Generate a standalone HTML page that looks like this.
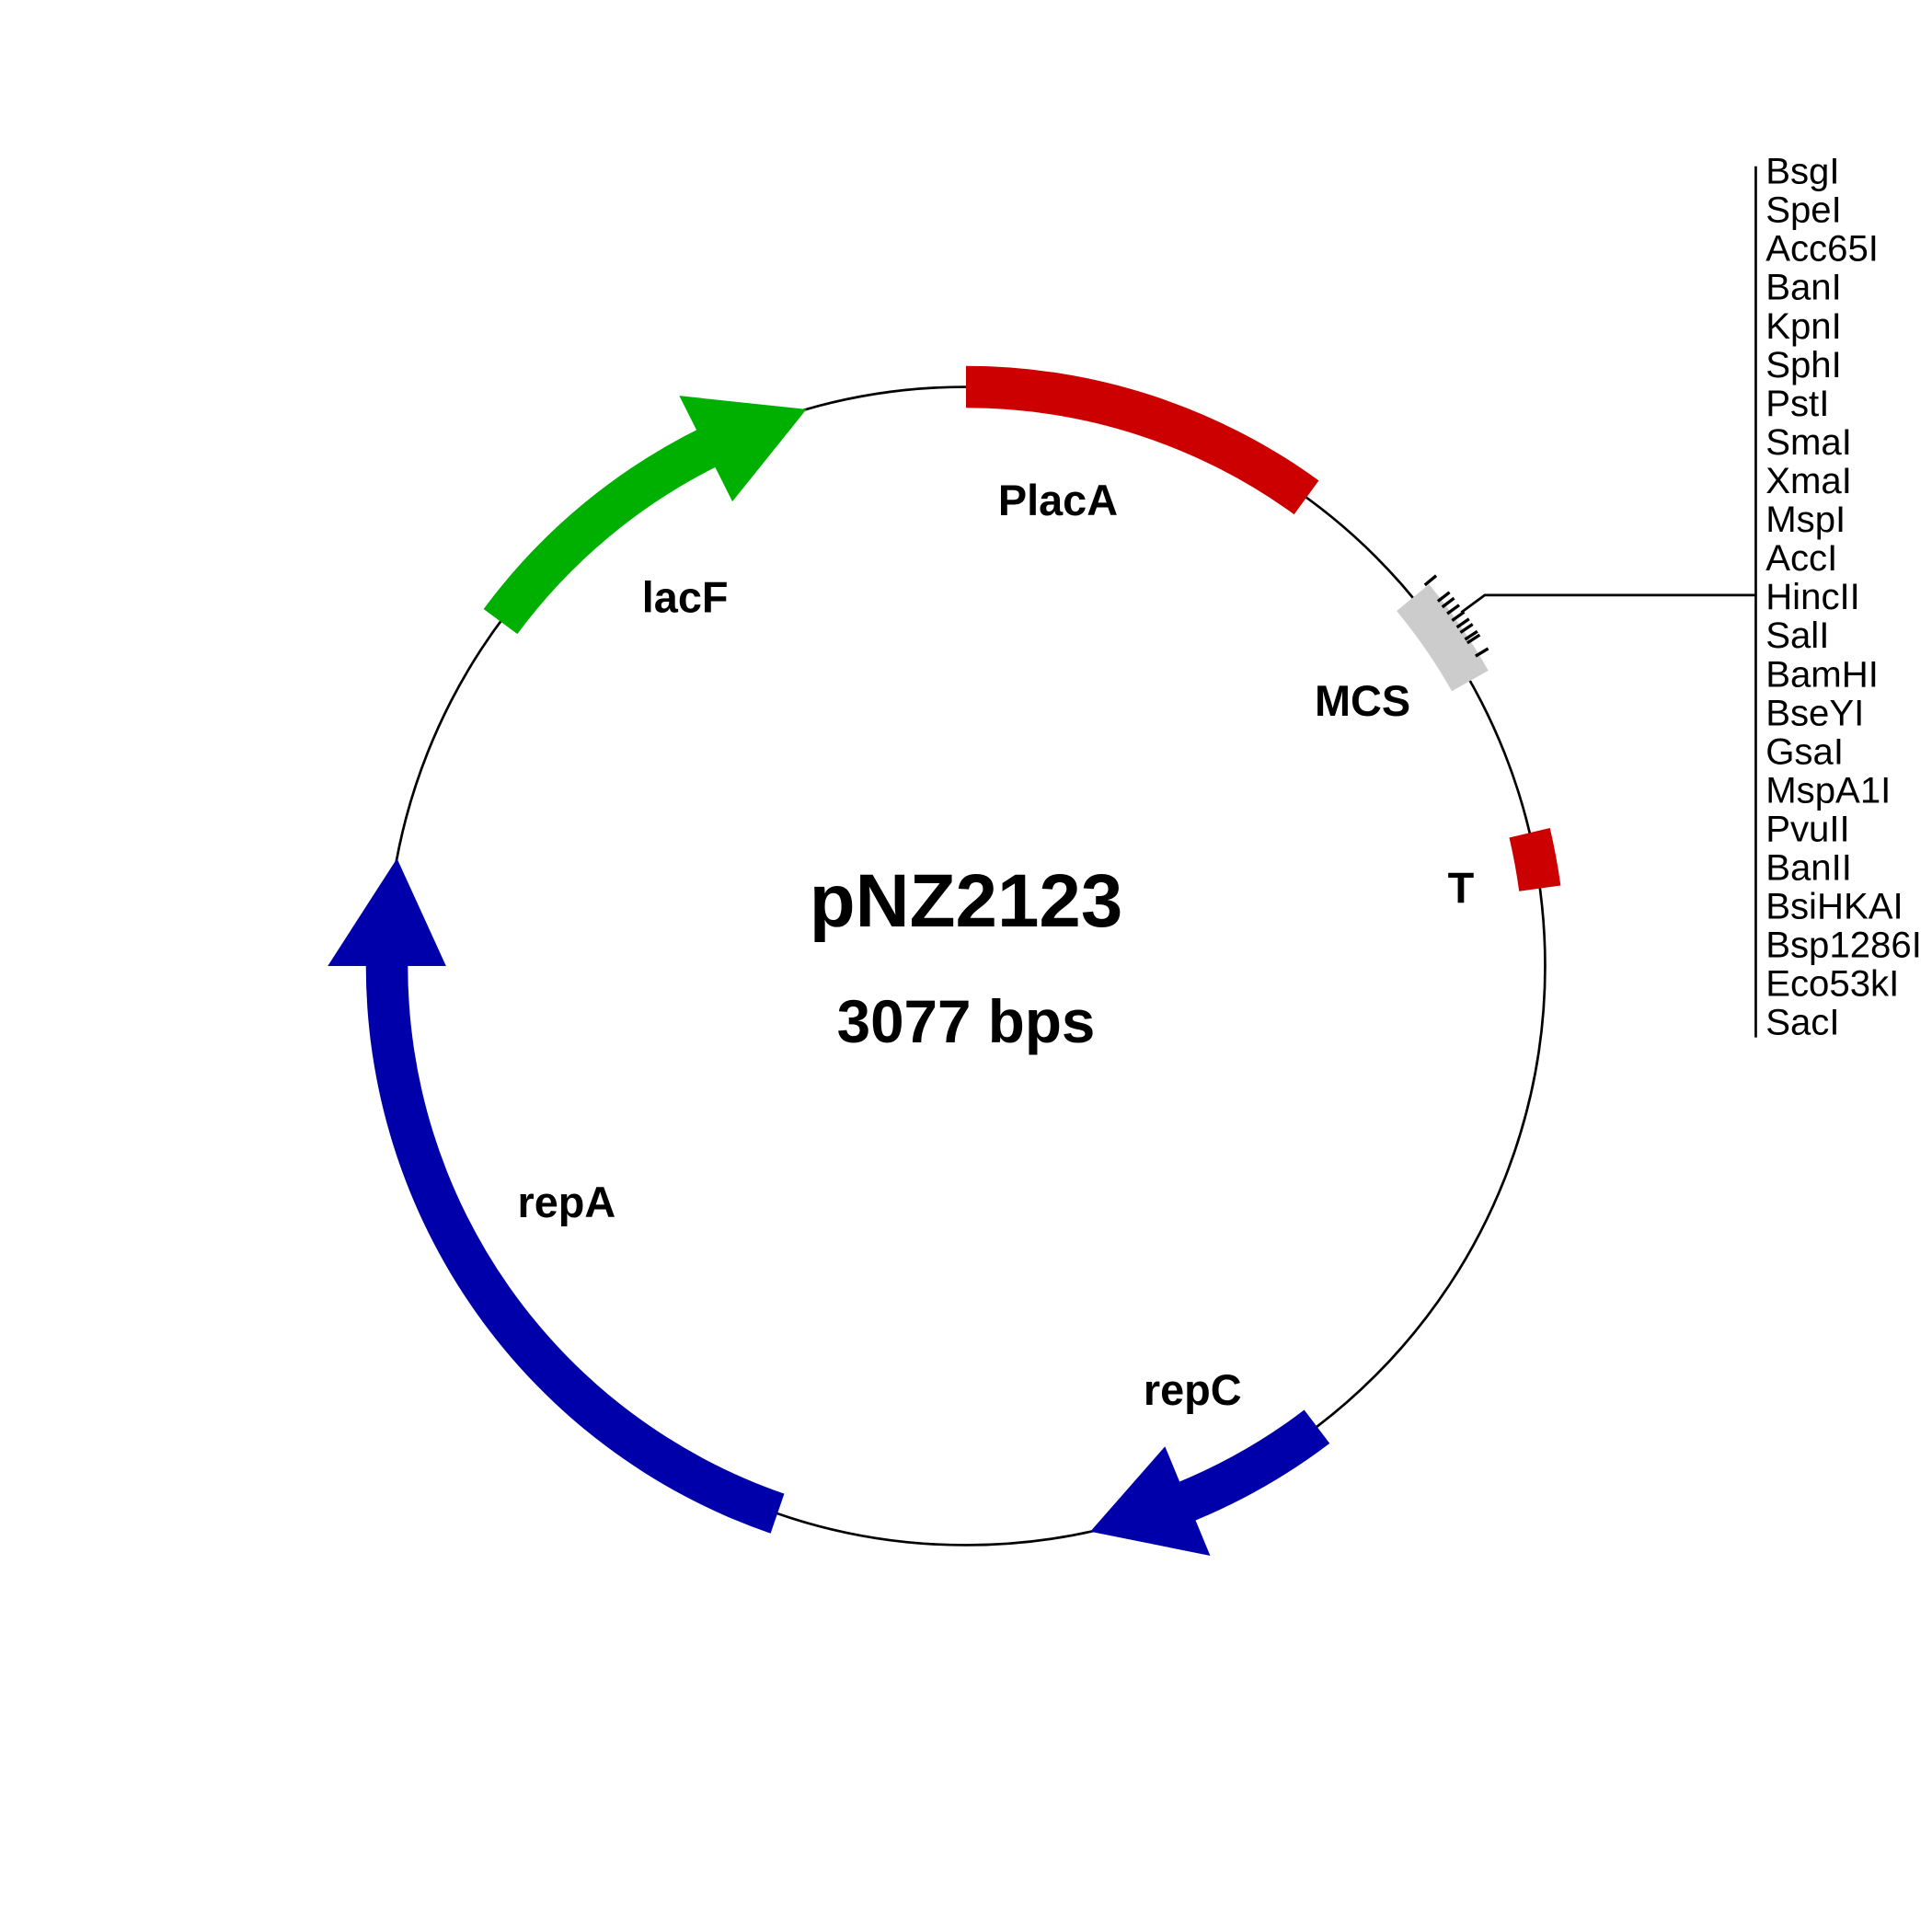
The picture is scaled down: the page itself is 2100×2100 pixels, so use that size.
<!DOCTYPE html>
<html><head><meta charset="utf-8"><style>
html,body{margin:0;padding:0;background:#fff;width:2100px;height:2100px;overflow:hidden}
svg{display:block}
text{font-family:"Liberation Sans",Arial,sans-serif}
.b{font-weight:bold;font-size:35px}
.r{font-size:30px}
</style></head><body>
<svg id="s" width="2100" height="2100" viewBox="0 0 1568 1568" xmlns="http://www.w3.org/2000/svg">
<circle cx="784" cy="784" r="470" fill="none" stroke="#000" stroke-width="2"/>
<g id="g"></g>
<line x1="1425" y1="135" x2="1425" y2="842" stroke="#000" stroke-width="2"/>
<polyline points="1425,483 1205,483 1186,497" fill="none" stroke="#000" stroke-width="2"/>
<text class="b" x="810" y="418">PlacA</text>
<text class="b" x="521" y="497">lacF</text>
<text class="b" x="1067" y="581">MCS</text>
<text class="b" x="1175" y="733">T</text>
<text class="b" x="420" y="988">repA</text>
<text class="b" x="928" y="1140">repC</text>
<text x="784" y="752" text-anchor="middle" font-weight="bold" font-size="61">pNZ2123</text>
<text x="784" y="846" text-anchor="middle" font-weight="bold" font-size="49">3077 bps</text>
<g id="t"></g>
</svg>
<script>
var C=784,R=470,NS="http://www.w3.org/2000/svg";
function p(a,r){a=a*Math.PI/180;return [C+r*Math.sin(a),C-r*Math.cos(a)];}
function f(x){return x[0].toFixed(1)+","+x[1].toFixed(1);}
var g=document.getElementById("g");
function add(d,c){var e=document.createElementNS(NS,"path");e.setAttribute("d",d);e.setAttribute("fill",c);g.appendChild(e);}
function arc(a1,a2,c,w){w=w||17;var l=(a2-a1)>180?1:0;
add("M"+f(p(a1,R+w))+"A"+(R+w)+","+(R+w)+" 0 "+l+" 1 "+f(p(a2,R+w))+"L"+f(p(a2,R-w))+"A"+(R-w)+","+(R-w)+" 0 "+l+" 0 "+f(p(a1,R-w))+"Z",c);}
function head(b,t,c){add("M"+f(p(b,R+48))+"L"+f(p(t,R))+"L"+f(p(b,R-48))+"Z",c);}
arc(0,36,"#cc0000");
arc(50.5,60.5,"#cccccc");
arc(76.7,82.3,"#cc0000");
arc(142.7,158,"#0000aa");head(157.5,167.6,"#0000aa");
arc(199,270.5,"#0000aa");head(270,280.7,"#0000aa");
arc(306.5,334,"#00b000");head(333.3,344,"#00b000");
var tk=[50.3,52.3,53.0,53.8,54.6,55.4,56.0,56.8,57.2,58.7];
var tg=document.getElementById("t");
tk.forEach(function(a){var e=document.createElementNS(NS,"line");var q=p(a,R+14),r=p(a,R+26);
e.setAttribute("x1",q[0]);e.setAttribute("y1",q[1]);e.setAttribute("x2",r[0]);e.setAttribute("y2",r[1]);e.setAttribute("stroke","#000");e.setAttribute("stroke-width","2.5");tg.appendChild(e);});
var names=["BsgI","SpeI","Acc65I","BanI","KpnI","SphI","PstI","SmaI","XmaI","MspI","AccI","HincII","SalI","BamHI","BseYI","GsaI","MspA1I","PvuII","BanII","BsiHKAI","Bsp1286I","Eco53kI","SacI"];
names.forEach(function(n,i){var e=document.createElementNS(NS,"text");e.setAttribute("class","r");e.setAttribute("x","1433");e.setAttribute("y",(149+i*31.4).toFixed(1));e.textContent=n;tg.appendChild(e);});
</script>
</body></html>
